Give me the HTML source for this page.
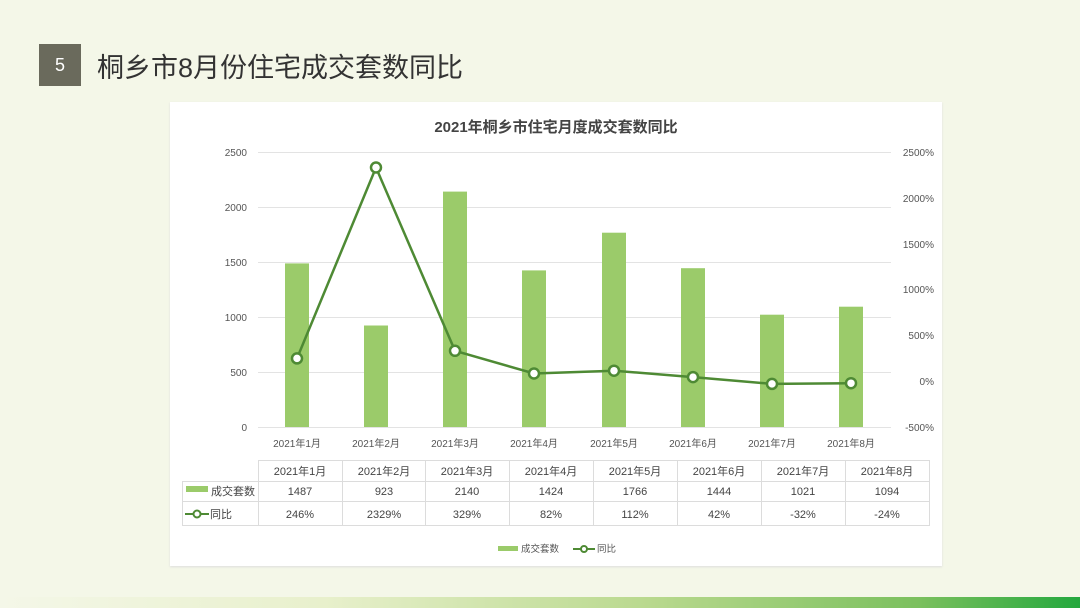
<!DOCTYPE html>
<html><head><meta charset="utf-8"><style>
body{margin:0;width:1080px;height:608px;background:#f4f7e8;position:relative;overflow:hidden;font-family:"Liberation Sans","Noto Sans CJK SC",sans-serif}
.num{position:absolute;left:39px;top:44px;width:42px;height:42px;background:#6a6a5c;color:#fff;font-size:18px;line-height:42px;text-align:center}
.title{position:absolute;left:97px;top:46px;font-size:27px;color:#333;letter-spacing:0}
.panel{position:absolute;left:170px;top:102px;width:772px;height:464px;background:#fff;box-shadow:0 1px 2px #ddd}
.strip{position:absolute;left:0;top:597px;width:1080px;height:11px;background:linear-gradient(90deg,#f4f7e8 0%,#e8f0cc 30%,#b9d98e 60%,#7bc05e 85%,#24a83e 100%)}
</style></head><body>
<div class="num">5</div>
<div class="title">桐乡市8月份住宅成交套数同比</div>
<div class="panel"></div>
<div class="strip"></div>
<svg width="1080" height="608" style="position:absolute;left:0;top:0" font-family="Liberation Sans, Noto Sans CJK SC, sans-serif">
<text x="556" y="132" font-size="15" font-weight="bold" fill="#444" text-anchor="middle">2021年桐乡市住宅月度成交套数同比</text>
<g stroke="#e3e3e3" stroke-width="1">
<line x1="258" y1="152.5" x2="891" y2="152.5"/><line x1="258" y1="207.5" x2="891" y2="207.5"/><line x1="258" y1="262.5" x2="891" y2="262.5"/><line x1="258" y1="317.5" x2="891" y2="317.5"/><line x1="258" y1="372.5" x2="891" y2="372.5"/><line x1="258" y1="427.5" x2="891" y2="427.5"/>
</g>
<g font-size="10" fill="#555" text-anchor="end">
<text x="247" y="156">2500</text><text x="247" y="211">2000</text><text x="247" y="266">1500</text><text x="247" y="321">1000</text><text x="247" y="376">500</text><text x="247" y="431">0</text>
</g>
<g font-size="10" fill="#555" text-anchor="end">
<text x="934" y="156">2500%</text><text x="934" y="202">2000%</text><text x="934" y="248">1500%</text><text x="934" y="293">1000%</text><text x="934" y="339">500%</text><text x="934" y="385">0%</text><text x="934" y="431">-500%</text>
</g>
<g fill="#9bcb6a">
<rect x="285" y="263.4" width="24" height="163.6"/>
<rect x="364" y="325.5" width="24" height="101.5"/>
<rect x="443" y="191.6" width="24" height="235.4"/>
<rect x="522" y="270.4" width="24" height="156.6"/>
<rect x="602" y="232.7" width="24" height="194.3"/>
<rect x="681" y="268.2" width="24" height="158.8"/>
<rect x="760" y="314.7" width="24" height="112.3"/>
<rect x="839" y="306.7" width="24" height="120.3"/>
</g>
<polyline fill="none" stroke="#4e8a34" stroke-width="2.5" points="297,358.4 376,167.5 455,350.8 534,373.5 614,370.7 693,377.1 772,383.9 851,383.2"/>
<g fill="#fff" stroke="#4e8a34" stroke-width="2.5">
<circle cx="297" cy="358.4" r="5"/><circle cx="376" cy="167.5" r="5"/><circle cx="455" cy="350.8" r="5"/><circle cx="534" cy="373.5" r="5"/><circle cx="614" cy="370.7" r="5"/><circle cx="693" cy="377.1" r="5"/><circle cx="772" cy="383.9" r="5"/><circle cx="851" cy="383.2" r="5"/>
</g>
<g font-size="10" fill="#555" text-anchor="middle">
<text x="297" y="447">2021年1月</text><text x="376" y="447">2021年2月</text><text x="455" y="447">2021年3月</text><text x="534" y="447">2021年4月</text><text x="614" y="447">2021年5月</text><text x="693" y="447">2021年6月</text><text x="772" y="447">2021年7月</text><text x="851" y="447">2021年8月</text>
</g>
<g stroke="#dcdcdc" stroke-width="1" fill="none">
<line x1="258" y1="460.5" x2="930" y2="460.5"/>
<line x1="182" y1="481.5" x2="930" y2="481.5"/>
<line x1="182" y1="501.5" x2="930" y2="501.5"/>
<line x1="182" y1="525.5" x2="930" y2="525.5"/>
<line x1="182.5" y1="481" x2="182.5" y2="526"/>
<line x1="258.5" y1="460" x2="258.5" y2="526"/><line x1="342.5" y1="460" x2="342.5" y2="526"/><line x1="425.5" y1="460" x2="425.5" y2="526"/><line x1="509.5" y1="460" x2="509.5" y2="526"/><line x1="593.5" y1="460" x2="593.5" y2="526"/><line x1="677.5" y1="460" x2="677.5" y2="526"/><line x1="761.5" y1="460" x2="761.5" y2="526"/><line x1="845.5" y1="460" x2="845.5" y2="526"/><line x1="929.5" y1="460" x2="929.5" y2="526"/>
</g>
<g font-size="11" fill="#444" text-anchor="middle">
<text x="300" y="475">2021年1月</text><text x="384" y="475">2021年2月</text><text x="467" y="475">2021年3月</text><text x="551" y="475">2021年4月</text><text x="635" y="475">2021年5月</text><text x="719" y="475">2021年6月</text><text x="803" y="475">2021年7月</text><text x="887" y="475">2021年8月</text>
<text x="300" y="495">1487</text><text x="384" y="495">923</text><text x="467" y="495">2140</text><text x="551" y="495">1424</text><text x="635" y="495">1766</text><text x="719" y="495">1444</text><text x="803" y="495">1021</text><text x="887" y="495">1094</text>
<text x="300" y="518">246%</text><text x="384" y="518">2329%</text><text x="467" y="518">329%</text><text x="551" y="518">82%</text><text x="635" y="518">112%</text><text x="719" y="518">42%</text><text x="803" y="518">-32%</text><text x="887" y="518">-24%</text>
</g>
<rect x="186" y="486" width="22" height="6" fill="#9bcb6a"/>
<text x="211" y="495" font-size="11" fill="#444">成交套数</text>
<line x1="185" y1="514" x2="209" y2="514" stroke="#4e8a34" stroke-width="2"/><circle cx="197" cy="514" r="3.5" fill="#fff" stroke="#4e8a34" stroke-width="2"/>
<text x="210" y="518" font-size="11" fill="#444">同比</text>
<rect x="498" y="546" width="20" height="5" fill="#9bcb6a"/>
<text x="521" y="552" font-size="9.5" fill="#555">成交套数</text>
<line x1="573" y1="549" x2="595" y2="549" stroke="#4e8a34" stroke-width="2"/><circle cx="584" cy="549" r="3" fill="#fff" stroke="#4e8a34" stroke-width="2"/>
<text x="597" y="552" font-size="9.5" fill="#555">同比</text>
</svg>
</body></html>
